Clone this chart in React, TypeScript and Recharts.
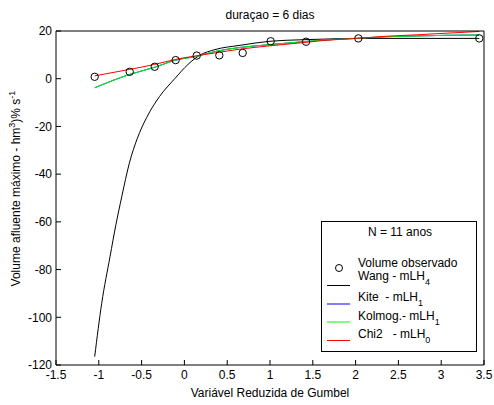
import { ComposedChart, Line, Scatter, XAxis, YAxis } from "recharts"

const FONT = "'Liberation Sans', Arial, Helvetica, sans-serif"

const xTicks = [-1.5, -1, -0.5, 0, 0.5, 1, 1.5, 2, 2.5, 3, 3.5]
const yTicks = [-120, -100, -80, -60, -40, -20, 0, 20]

// observed annual maxima (Gumbel reduced variate vs volume)
const observedX = [-1.048, -0.639, -0.347, -0.102, 0.144, 0.408, 0.681, 1.008, 1.421, 2.032, 3.445]
const observedY = [0.8, 2.9, 5.0, 7.8, 9.7, 9.8, 10.8, 15.7, 15.5, 16.9, 16.9]

const wangX = [-1.048, -0.966, -0.869, -0.799, -0.732, -0.644, -0.55, -0.44, -0.289, -0.113, 0.042, 0.182, 0.357, 0.65, 1.0, 1.35, 1.62, 2.01, 3.445]
const wangY = [-116.5, -94.1, -74.6, -61, -49.5, -35.5, -25.0, -16.2, -7.4, 0.0, 6.0, 9.9, 12.2, 14.0, 15.7, 16.3, 16.6, 16.9, 16.9]

const kolmogX = [-1.048, -0.639, -0.347, -0.102, 0.144, 0.357, 0.65, 1.0, 1.35, 1.62, 2.01, 2.36, 2.71, 3.06, 3.445]
const kolmogY = [-3.8, 1.8, 4.8, 7.8, 9.4, 11.4, 13.1, 14.3, 15.4, 16.2, 16.9, 17.6, 17.9, 18.2, 18.35]

// Kite uses the same mLH1 fit, hidden under the green line
const kiteX = kolmogX
const kiteY = kolmogY

const chi2X = [-1.048, -0.639, -0.347, -0.102, 0.139, 0.357, 0.65, 1.0, 1.35, 1.62, 2.01, 2.36, 2.71, 3.02, 3.445]
const chi2Y = [1.2, 3.9, 6.0, 8.1, 9.6, 10.8, 12.4, 13.8, 15.0, 16.0, 16.9, 17.8, 18.4, 19.0, 19.8]

const zip = (xs: number[], ys: number[]) => xs.map((x, i) => ({ x, y: ys[i] }))

const series = [
  { name: "Wang - mLH", sub: "4", color: "#000000", data: zip(wangX, wangY) },
  { name: "Kite  - mLH", sub: "1", color: "#0000ff", data: zip(kiteX, kiteY) },
  { name: "Kolmog.- mLH", sub: "1", color: "#00ff00", data: zip(kolmogX, kolmogY) },
  { name: "Chi2   - mLH", sub: "0", color: "#ff0000", data: zip(chi2X, chi2Y) },
]

// legend row positions (text baseline, line y)
const legendRows = [
  { text: 279.5, line: 285.5 },
  { text: 301, line: 304 },
  { text: 319.5, line: 322 },
  { text: 337.5, line: 340.5 },
]

const Circle = (props: any) => (
  <circle cx={props.cx} cy={props.cy} r={3.7} fill="none" stroke="#000" strokeWidth={1} />
)

const tickStyle = { fill: "#000", fontSize: 12, fontFamily: FONT }

export default function App() {
  return (
    <div style={{ position: "absolute", left: 0, top: 0, width: 494, height: 405, background: "#fff" }}>
      <ComposedChart width={494} height={405} margin={{ top: 30, right: 9, bottom: 0, left: 0 }}>
        <XAxis
          xAxisId="b"
          dataKey="x"
          type="number"
          domain={[-1.5, 3.5]}
          ticks={xTicks}
          interval={0}
          height={40}
          stroke="#000"
          tickSize={-5}
          tickMargin={10}
          tick={tickStyle}
          allowDataOverflow
          label={{ value: "Variável Reduzida de Gumbel", position: "insideBottom", offset: 8, fill: "#000", fontSize: 12, fontFamily: FONT }}
        />
        <XAxis
          xAxisId="t"
          orientation="top"
          type="number"
          domain={[-1.5, 3.5]}
          ticks={xTicks}
          interval={0}
          height={1}
          stroke="#000"
          tickSize={-5}
          tick={false}
          allowDataOverflow
          label={{ value: "duraçao = 6 dias", position: "top", offset: 11, fill: "#000", fontSize: 12, fontFamily: FONT }}
        />
        <YAxis
          yAxisId="l"
          type="number"
          domain={[-120, 20]}
          ticks={yTicks}
          interval={0}
          width={56}
          stroke="#000"
          tickSize={-5}
          tickMargin={9}
          tick={tickStyle}
          allowDataOverflow
        />
        <YAxis
          yAxisId="r"
          orientation="right"
          type="number"
          domain={[-120, 20]}
          ticks={yTicks}
          interval={0}
          width={1}
          stroke="#000"
          tickSize={-5}
          tick={false}
          allowDataOverflow
        />
        <Scatter
          xAxisId="b"
          yAxisId="l"
          data={zip(observedX, observedY)}
          dataKey="y"
          shape={Circle}
          isAnimationActive={false}
        />
        {series.map((s) => (
          <Line
            key={s.name}
            xAxisId="b"
            yAxisId="l"
            data={s.data}
            dataKey="y"
            type="monotone"
            stroke={s.color}
            strokeWidth={1}
            dot={false}
            activeDot={false}
            isAnimationActive={false}
          />
        ))}
      </ComposedChart>
      <svg
        width={494}
        height={405}
        style={{ position: "absolute", left: 0, top: 0, pointerEvents: "none", fontFamily: FONT }}
      >
        <text x={19.5} y={188.5} transform="rotate(-90 19.5 188.5)" textAnchor="middle" fontSize={12} fill="#000">
          Volume afluente máximo - hm
          <tspan fontSize={9} dy={-5}>3</tspan>
          <tspan dy={5}>)% s</tspan>
          <tspan fontSize={9} dy={-5}>-1</tspan>
        </text>
        <rect x={321.5} y={221.5} width={155} height={130} fill="#fff" stroke="#000" />
        <text x={400} y={235.5} textAnchor="middle" fontSize={12} fill="#000">N = 11 anos</text>
        <circle cx={339} cy={268} r={3.5} fill="none" stroke="#000" />
        <text x={358} y={266.5} fontSize={12} fill="#000">Volume observado</text>
        {series.map((s, i) => (
          <g key={s.name}>
            <line x1={327} x2={350} y1={legendRows[i].line} y2={legendRows[i].line} stroke={s.color} />
            <text x={358} y={legendRows[i].text} fontSize={12} fill="#000" style={{ whiteSpace: "pre" }}>
              {s.name}
              <tspan fontSize={9} dy={5}>{s.sub}</tspan>
            </text>
          </g>
        ))}
      </svg>
    </div>
  )
}
